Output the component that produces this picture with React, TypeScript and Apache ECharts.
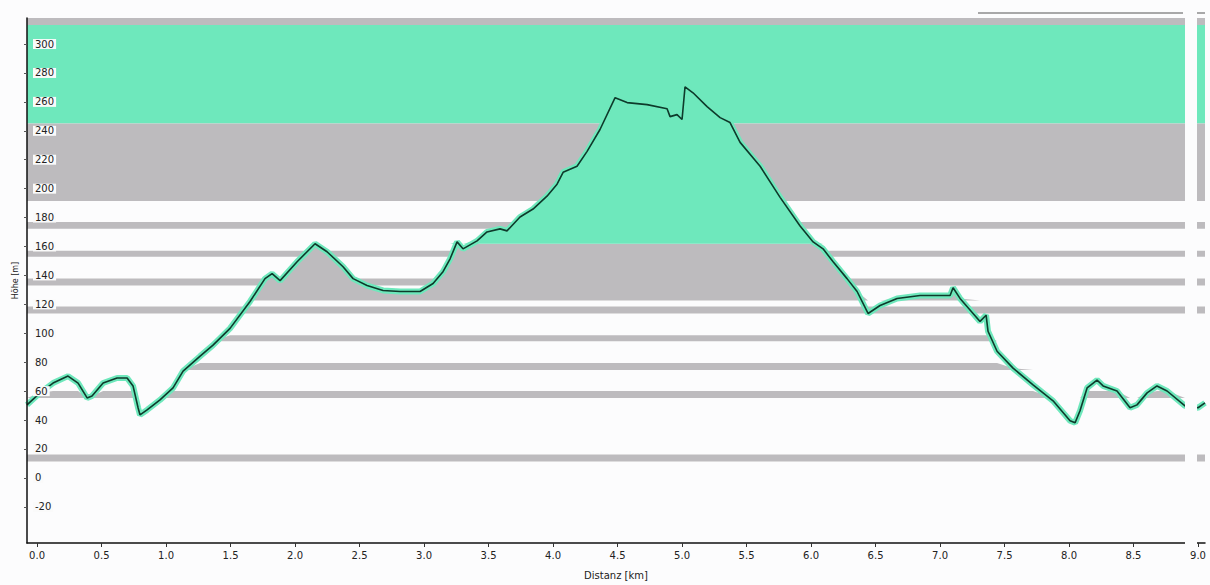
import React, { useEffect, useRef } from "react";
import * as echarts from "echarts";

// ---- data ----
const distanceKm = [
  -0.078, 0.023, 0.124, 0.24, 0.318, 0.388, 0.426, 0.512, 0.62, 0.698, 0.744, 0.783, 0.798, 0.853, 0.953,
  1.054, 1.132, 1.264, 1.364, 1.496, 1.651, 1.767, 1.822, 1.884, 2.016, 2.155, 2.248, 2.372, 2.45, 2.558,
  2.682, 2.814, 2.969, 3.07, 3.147, 3.202, 3.256, 3.302, 3.411, 3.488, 3.589, 3.643, 3.744, 3.845, 3.953,
  4.031, 4.078, 4.186, 4.264, 4.364, 4.481, 4.574, 4.729, 4.884, 4.907, 4.961, 5.0, 5.023, 5.085, 5.194,
  5.295, 5.372, 5.45, 5.605, 5.76, 5.915, 6.016, 6.093, 6.171, 6.279, 6.357, 6.442, 6.535, 6.667, 6.845,
  7.078, 7.101, 7.155, 7.31, 7.357, 7.372, 7.442, 7.566, 7.721, 7.876, 8.008, 8.047, 8.085, 8.14, 8.217,
  8.264, 8.372, 8.473, 8.527, 8.605, 8.682, 8.76, 8.899, 9.0, 9.054,
];
const elevationM = [
  50.5, 58.8, 65.6, 70.4, 65.6, 55.3, 56.7, 65.6, 69.1, 69.1, 63.6, 48.5, 43.6, 47.0, 53.9,
  62.2, 73.9, 84.2, 91.8, 103.4, 122.0, 137.8, 141.2, 136.4, 149.5, 161.9, 156.4, 146.0, 137.8, 133.0,
  129.6, 128.9, 128.9, 134.4, 142.6, 151.5, 163.2, 158.4, 163.9, 170.1, 172.2, 170.8, 180.4, 185.9, 194.8,
  203.1, 211.3, 215.5, 225.8, 240.9, 262.9, 259.5, 258.1, 255.3, 249.8, 251.2, 247.8, 270.4, 266.3, 256.7,
  249.1, 245.7, 232.0, 215.5, 194.0, 174.2, 163.2, 158.4, 149.5, 137.8, 128.9, 113.7, 119.2, 124.1, 126.1,
  126.1, 131.5, 124.1, 108.2, 112.5, 101.4, 87.6, 75.9, 64.3, 53.3, 39.5, 38.1, 46.4, 62.2, 67.7,
  63.6, 60.1, 48.5, 50.5, 58.8, 63.6, 60.1, 49.8, 48.5, 51.9,
];

const xTicks = [0, 0.5, 1, 1.5, 2, 2.5, 3, 3.5, 4, 4.5, 5, 5.5, 6, 6.5, 7, 7.5, 8, 8.5, 9];
const yTicks = [-20, 0, 20, 40, 60, 80, 100, 120, 140, 160, 180, 200, 220, 240, 260, 280, 300];

// background bands (metres)
const topStrip = [313.1, 318];
const greenBand = [245, 313.1];
const grayBand = [191.4, 245];
const fullStripes = [
  [172.2, 177.0],
  [152.9, 157.0],
  [133.0, 137.8],
  [113.7, 118.6],
  [11.3, 16.2],
];
// fills under the profile line (metres)
const underGreen = [161.9, 318];
const underGray = [122.7, 161.9];
const underStripes = [
  [94.5, 98.6],
  [74.6, 79.4],
  [55.3, 60.1],
];

const X_MIN = -0.078;
const X_MAX = 9.054;
const Y_MIN = -45;
const Y_MAX = 318;

const GREEN = "#6ee8bc";
const GRAY = "#bdbbbe";

export default function App() {
  const ref = useRef<HTMLDivElement>(null);

  useEffect(() => {
    if (!ref.current) return;
    const chart = echarts.init(ref.current, undefined, { renderer: "svg" });

    const band = (lo: number, hi: number, color: string) => [
      { xAxis: X_MIN, yAxis: lo, itemStyle: { color } },
      { xAxis: X_MAX, yAxis: hi },
    ];

    const clamped = (lo: number, hi: number, color: string, z: number) => ({
      type: "line",
      data: distanceKm.map((x, i) => [x, Math.min(Math.max(elevationM[i], lo), hi)]),
      showSymbol: false,
      symbol: "none",
      lineStyle: { width: 0, opacity: 0 },
      areaStyle: { color, opacity: 1, origin: lo },
      silent: true,
      z,
    });

    const profile = distanceKm.map((x, i) => [x, elevationM[i]]);

    chart.setOption({
      animation: false,
      backgroundColor: "#fcfcfd",
      grid: { left: 27, right: 5, top: 18, bottom: 39 },
      xAxis: {
        type: "value",
        z: 20,
        min: X_MIN,
        max: X_MAX,
        name: "Distanz [km]",
        nameLocation: "middle",
        nameGap: 27,
        nameTextStyle: { color: "#222", fontSize: 10, fontFamily: "DejaVu Sans" },
        axisLine: { show: true, onZero: false, lineStyle: { color: "#111", width: 1.5 } },
        axisTick: { show: true, length: 4, lineStyle: { color: "#333" }, customValues: xTicks },
        axisLabel: {
          customValues: xTicks,
          formatter: (v: number) => v.toFixed(1),
          color: "#222",
          fontSize: 10,
          fontFamily: "DejaVu Sans",
          margin: 7,
        },
        splitLine: { show: false },
      },
      yAxis: {
        type: "value",
        z: 20,
        min: Y_MIN,
        max: Y_MAX,
        name: "Höhe [m]",
        nameLocation: "middle",
        nameGap: 8,
        nameRotate: 90,
        nameTextStyle: { color: "#222", fontSize: 8, fontFamily: "DejaVu Sans" },
        axisLine: { show: true, onZero: false, lineStyle: { color: "#111", width: 1.5 } },
        axisTick: { show: true, length: 3, lineStyle: { color: "#555" }, customValues: yTicks },
        axisLabel: {
          customValues: yTicks,
          inside: true,
          margin: 6,
          color: "#222",
          fontSize: 10,
          fontFamily: "DejaVu Sans",
          backgroundColor: "#fafafa",
          padding: [0, 2],
        },
        splitLine: { show: false },
      },
      graphic: [
        {
          type: "rect",
          z: 100,
          shape: { x: 1185, y: 10, width: 12, height: 534 },
          style: { fill: "#fcfcfd" },
          silent: true,
        },
        {
          type: "line",
          z: 100,
          shape: { x1: 978, y1: 13, x2: 1183, y2: 13 },
          style: { stroke: "#555", lineWidth: 1 },
          silent: true,
        },
        {
          type: "line",
          z: 100,
          shape: { x1: 1197, y1: 13, x2: 1205, y2: 13 },
          style: { stroke: "#555", lineWidth: 1 },
          silent: true,
        },
      ],
      series: [
        {
          type: "line",
          data: [],
          silent: true,
          z: 1,
          markArea: {
            silent: true,
            label: { show: false },
            data: [
              band(topStrip[0], topStrip[1], GRAY),
              band(greenBand[0], greenBand[1], GREEN),
              band(grayBand[0], grayBand[1], GRAY),
              ...fullStripes.map((s) => band(s[0], s[1], GRAY)),
            ],
          },
        },
        clamped(underGray[0], underGray[1], GRAY, 2),
        clamped(underGreen[0], underGreen[1], GREEN, 3),
        ...underStripes.map((s) => clamped(s[0], s[1], GRAY, 2)),
        {
          type: "line",
          data: profile,
          showSymbol: false,
          symbol: "none",
          lineStyle: { color: GREEN, width: 6 },
          silent: true,
          z: 5,
        },
        {
          type: "line",
          data: profile,
          showSymbol: false,
          symbol: "none",
          lineStyle: { color: "#0e3a2b", width: 1.6 },
          silent: true,
          z: 6,
        },
      ],
    });

    return () => chart.dispose();
  }, []);

  return (
    <div
      ref={ref}
      style={{ position: "absolute", left: 0, top: 0, width: 1210, height: 585 }}
    />
  );
}
